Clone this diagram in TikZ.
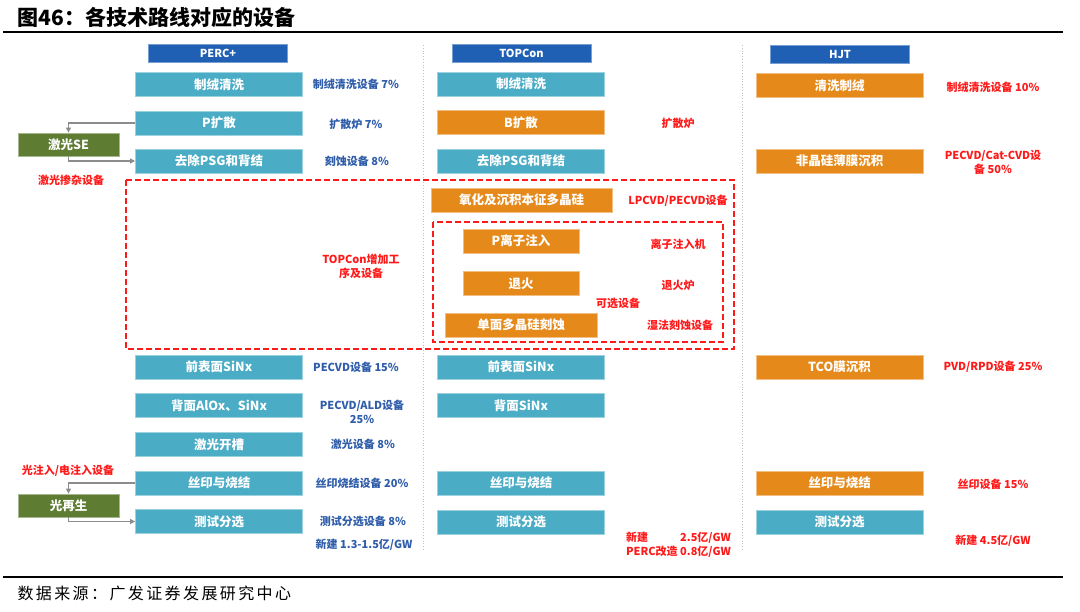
\documentclass[tikz,border=0pt]{standalone}
\usepackage{fontspec}
\setmainfont{Noto Sans CJK SC}
\usetikzlibrary{arrows.meta}
\definecolor{cHead}{HTML}{1F5FB4}
\definecolor{cStep}{HTML}{4BACC6}
\definecolor{cNew}{HTML}{E58A1A}
\definecolor{cLaser}{HTML}{5E7D32}
\definecolor{cBlue}{HTML}{2F5DAA}
\definecolor{cRed}{HTML}{FF1A1A}
\definecolor{cLine}{HTML}{8C8C8C}

\begin{document}
\begin{tikzpicture}[
    x=1pt, y=-1pt,
    stepbox/.style={
        rectangle, fill=#1, draw=#1!55!white, line width=0.8pt,
        minimum width=167pt, minimum height=24pt, inner sep=0pt,
        text=white, font=\bfseries\fontsize{12.5}{13}\selectfont
    },
    tealbox/.style={stepbox=cStep},
    orbox/.style={stepbox=cNew},
    laserbox/.style={stepbox=cLaser, minimum width=101pt, minimum height=23pt},
    headbox/.style={
        rectangle, fill=cHead, draw=cHead!60!white, line width=0.8pt,
        minimum width=139pt, minimum height=18pt, inner sep=0pt,
        text=white, font=\bfseries\fontsize{11}{11}\selectfont
    },
    bluenote/.style={text=cBlue, font=\bfseries\fontsize{11}{14}\selectfont, align=center, inner sep=0pt},
    rednote/.style={bluenote, text=cRed},
    conn/.style={-{Triangle[length=5pt, width=5pt]}, draw=cLine, line width=1.2pt},
    addbox/.style={draw=cRed, line width=1.8pt, dash pattern=on 6pt off 3pt},
    colsep/.style={draw=gray!50, dotted, line width=0.8pt},
]
\useasboundingbox[fill=white] (0,0) rectangle (1080,612);

% ---------------------------------------------------------------- frame
\node (title) [anchor=west, font=\bfseries\fontsize{21}{21}\selectfont] at (14,17)
    {图46：各技术路线对应的设备};
\draw [line width=1.6pt] (3,32) -- (1063,32);
\draw [line width=1.2pt] (3,577) -- (1063,577);
\node (src) [anchor=west, font=\fontsize{16}{16}\selectfont\addfontfeature{LetterSpace=15}] at (14,593)
    {数据来源：广发证券发展研究中心};

\draw [colsep] (423,45) -- (423,550);
\draw [colsep] (742,45) -- (742,550);

% ---------------------------------------------------------------- PERC+
\node (hperc) [headbox] at (218,53) {PERC+};
\node (perc1) [tealbox] at (219,84.5)  {制绒清洗};
\node (perc2) [tealbox] at (219,123)   {P扩散};
\node (perc3) [tealbox] at (219,161)   {去除PSG和背结};
\node (perc4) [tealbox] at (219,367)   {前表面SiNx};
\node (perc5) [tealbox] at (219,405.5) {背面AlOx、SiNx};
\node (perc6) [tealbox] at (219,444.5) {激光开槽};
\node (perc7) [tealbox] at (219,483)   {丝印与烧结};
\node (perc8) [tealbox] at (219,521.5) {测试分选};

\node (eq1) [bluenote] at (356,84)  {制绒清洗设备 7\%};
\node (eq2) [bluenote] at (356,124) {扩散炉 7\%};
\node (eq3) [bluenote] at (357,161) {刻蚀设备 8\%};
\node (eq4) [bluenote] at (356,367) {PECVD设备 15\%};
\node (eq5) [bluenote] at (362,412) {PECVD/ALD设备\\25\%};
\node (eq6) [bluenote] at (363,444) {激光设备 8\%};
\node (eq7) [bluenote] at (362,483) {丝印烧结设备 20\%};
\node (eq8) [bluenote] at (363,521) {测试分选设备 8\%};
\node (cost1) [bluenote] at (364,545) {新建 1.3-1.5亿/GW};

% ---------------------------------------------------------------- optional steps
\node (se)  [laserbox] at (68.5,144.5) {激光SE};
\node (lid) [laserbox] at (68.5,505.5) {光再生};
\node (seq)  [rednote] at (71,180) {激光掺杂设备};
\node (lidq) [rednote] at (68,471) {光注入/电注入设备};

\draw [conn] (perc2.west) -| (se.north);
\draw [conn] (se.south) |- (perc3.west);
\draw [conn] (perc7.west) -| (lid.north);
\draw [conn] (lid.south) |- (perc8.west);

% ---------------------------------------------------------------- TOPCon
\node (htop) [headbox] at (521.5,53.5) {TOPCon};
\node (top1) [tealbox] at (521,84)  {制绒清洗};
\node (top2) [orbox]   at (521,122.5) {B扩散};
\node (top3) [tealbox] at (521,161) {去除PSG和背结};
\node (top4) [orbox, minimum width=181pt] at (521.5,200) {氧化及沉积本征多晶硅};
\node (top5) [orbox, minimum width=116pt] at (521,241)   {P离子注入};
\node (top6) [orbox, minimum width=116pt] at (521,283.5) {退火};
\node (top7) [orbox, minimum width=152pt] at (521,325)   {单面多晶硅刻蚀};
\node (top8)  [tealbox] at (521,367)   {前表面SiNx};
\node (top9)  [tealbox] at (521,405.5) {背面SiNx};
\node (top10) [tealbox] at (521,483)   {丝印与烧结};
\node (top11) [tealbox] at (521,522)   {测试分选};

\draw [addbox] (126,180) rectangle (734,349);
\draw [addbox] (433,222) rectangle (723,342);

\node (addq) [rednote] at (361,266) {TOPCon增加工\\序及设备};
\node (tq2) [rednote] at (678,123) {扩散炉};
\node (tq4) [rednote] at (678,201) {LPCVD/PECVD设备};
\node (tq5) [rednote] at (678,244) {离子注入机};
\node (tq6) [rednote] at (678,285) {退火炉};
\node (opt) [rednote] at (618,303) {可选设备};
\node (tq7) [rednote] at (680,325) {湿法刻蚀设备};
\node (cost2) [rednote, anchor=east] at (731,546)
    {\begin{tabular}{@{}l@{ }r@{}}新建 & 2.5亿/GW\\PERC改造 & 0.8亿/GW\end{tabular}};

% ---------------------------------------------------------------- HJT
\node (hhjt) [headbox] at (840,54) {HJT};
\node (hjt1) [orbox]   at (839.5,85.5) {清洗制绒};
\node (hjt2) [orbox]   at (839.5,161)  {非晶硅薄膜沉积};
\node (hjt3) [orbox]   at (839.5,367)  {TCO膜沉积};
\node (hjt4) [orbox]   at (839.5,483)  {丝印与烧结};
\node (hjt5) [tealbox] at (839.5,522)  {测试分选};

\node (hq1) [rednote] at (993,87)  {制绒清洗设备 10\%};
\node (hq2) [rednote] at (993,162) {PECVD/Cat-CVD设\\备 50\%};
\node (hq3) [rednote] at (993,367) {PVD/RPD设备 25\%};
\node (hq4) [rednote] at (993,484) {丝印设备 15\%};
\node (cost3) [rednote] at (993,541) {新建 4.5亿/GW};

\end{tikzpicture}
\end{document}
